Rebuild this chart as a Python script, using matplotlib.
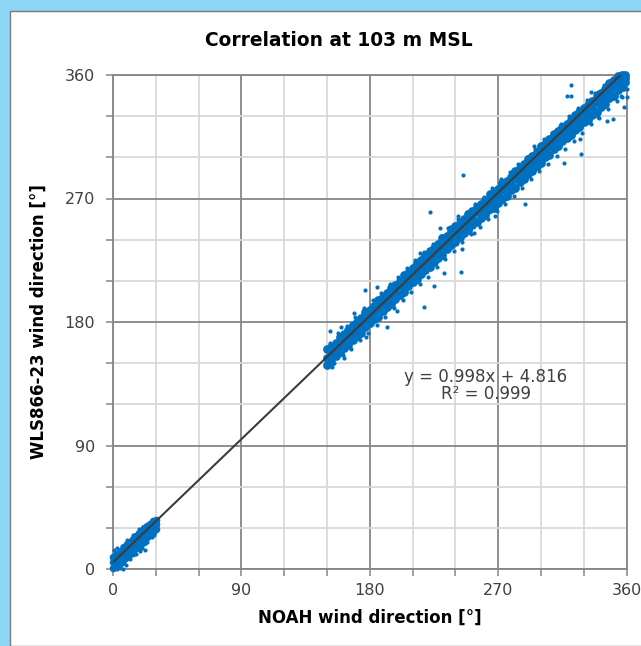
import matplotlib
matplotlib.use("Agg")
import matplotlib.pyplot as plt
from matplotlib.patches import Rectangle
from matplotlib.ticker import MultipleLocator


# dense band, 150..360 deg (NOAH x, three rows of WLS y read along the band)
band_x = [150, 153, 156, 159, 162, 165, 168, 171, 174, 177, 180, 183, 186, 189,
          192, 195, 198, 201, 204, 207, 210, 213, 216, 219, 222, 225, 228, 231,
          234, 237, 240, 243, 246, 249, 252, 255, 258, 261, 264, 267, 270, 273,
          276, 279, 282, 285, 288, 291, 294, 297, 300, 303, 306, 309, 312, 315,
          318, 321, 324, 327, 330, 333, 336, 339, 342, 345, 348, 351, 354, 357, 359]
band_lo = [149, 151, 155, 158, 161, 163, 167, 170, 172, 176, 179, 182, 184, 188,
           191, 193, 197, 200, 202, 206, 209, 211, 215, 218, 220, 224, 227, 229,
           233, 236, 238, 242, 245, 247, 251, 253, 256, 258, 262, 263, 267, 270,
           272, 276, 278, 282, 284, 288, 290, 294, 296, 300, 302, 306, 308, 312,
           314, 316, 320, 322, 326, 327, 331, 333, 337, 339, 343, 345, 349, 351, 355]
band_mid = [154, 157, 161, 163, 166, 170, 172, 175, 179, 181, 184, 188, 190, 193,
            197, 199, 202, 206, 208, 211, 215, 217, 220, 224, 226, 229, 233, 235,
            238, 242, 244, 247, 251, 253, 256, 260, 261, 264, 268, 269, 272, 276,
            278, 281, 285, 287, 290, 294, 296, 299, 303, 305, 308, 312, 314, 317,
            319, 322, 326, 328, 331, 333, 336, 340, 342, 345, 349, 351, 354, 357, 358]
band_hi = [160, 162, 165, 169, 171, 174, 178, 180, 183, 187, 189, 192, 196, 198,
           201, 205, 207, 210, 214, 216, 219, 223, 225, 228, 232, 234, 237, 241,
           243, 246, 250, 252, 255, 259, 261, 264, 266, 269, 273, 274, 277, 281,
           283, 286, 290, 292, 295, 299, 301, 304, 308, 310, 313, 317, 319, 322,
           324, 327, 331, 333, 336, 338, 341, 345, 347, 350, 354, 356, 359, 360, 360]

# dense cluster near north, 0..30 deg
low_x = [0, 2, 4, 6, 8, 10, 12, 14, 16, 18, 20, 22, 24, 26, 28, 30]
low_lo = [1, 2, 3, 5, 7, 9, 11, 12, 15, 17, 19, 20, 23, 25, 27, 29]
low_mid = [5, 6, 8, 10, 12, 13, 16, 17, 19, 21, 23, 25, 27, 29, 31, 33]
low_hi = [9, 10, 12, 14, 16, 18, 20, 22, 24, 26, 28, 30, 31, 33, 35, 36]

# scattered points round the band edges
fringe_x = [152, 155, 158, 161, 164, 167, 170, 173, 176, 179, 182, 185, 188, 191,
            194, 197, 200, 203, 206, 209, 212, 215, 218, 221, 224, 227, 230, 233,
            236, 239, 242, 245, 248, 251, 254, 257, 260, 263, 266, 269, 272, 275,
            278, 281, 284, 287, 290, 293, 296, 299, 302, 305, 308, 311, 314, 317,
            320, 323, 326, 329, 332, 335, 338, 341, 344, 347, 350, 353, 356, 358,
            0, 1, 3, 5, 7, 9, 1, 3, 6, 10, 14, 18, 12, 16, 20, 24, 27, 29, 31, 28, 4, 2]
fringe_y = [165, 150, 172, 156, 177, 160, 184, 167, 190, 172, 196, 178, 201, 184,
            208, 190, 213, 196, 219, 202, 225, 208, 231, 213, 237, 220, 243, 226,
            249, 232, 255, 238, 260, 244, 266, 249, 271, 255, 278, 261, 284, 266,
            289, 272, 295, 278, 300, 284, 306, 290, 313, 295, 318, 301, 324, 306,
            330, 312, 336, 318, 342, 324, 347, 329, 353, 335, 357, 341, 345, 350,
            0, 2, 0, 1, 0, 3, 14, 15, 17, 21, 25, 29, 7, 11, 15, 20, 23, 25, 31, 36, 6, 12]

# isolated outliers
outlier_x = [320.8, 318.5, 320.8, 334.9, 340.0, 349.5, 360.0, 356.5, 360.0, 357.9,
             346.0, 350.2, 340.0, 331.9, 327.7, 327.9, 315.9, 295.5, 299.0, 245.2,
             288.5, 268.1, 222.4, 253.3, 244.5, 244.0, 232.3, 218.2, 176.5, 215.4,
             234.6, 229.2, 242.1, 262.8, 246.3, 224.8, 192.4, 185.4, 169.0, 152.1,
             199.4, 177.4, 159.6, 161.9, 153.8, 22.5, 19.0]
outlier_y = [352.7, 344.9, 344.5, 347.4, 347.8, 344.2, 349.6, 343.7, 344.2, 336.5,
             326.5, 328.2, 329.2, 324.8, 313.1, 302.2, 295.7, 308.3, 307.3, 287.1,
             265.8, 257.3, 260.0, 245.1, 233.2, 216.2, 215.5, 191.1, 203.3, 230.5,
             248.7, 248.3, 257.5, 259.7, 243.4, 206.2, 176.1, 205.5, 186.9, 173.6,
             188.1, 169.3, 176.1, 154.0, 147.4, 13.6, 13.0]

SLOPE = 0.998
INTERCEPT = 4.816
R2 = 0.999

BLUE = "#0070C0"
FRAME = "#8ED6F6"


def main():
    plt.rcParams["font.family"] = "DejaVu Sans"
    fig = plt.figure(figsize=(6.41, 6.46), dpi=100, facecolor=FRAME)
    fig.patches.append(Rectangle((10 / 641, 0), 1, 1 - 11 / 646, transform=fig.transFigure,
                                 facecolor="white", edgecolor="#7a7a7a", lw=1.0, zorder=-5))

    ax = fig.add_axes([113 / 641, 77 / 646, 513.5 / 641, 494 / 646])
    ax.set_xlim(0, 360)
    ax.set_ylim(0, 360)

    # core rows drawn with bigger dots so the band closes up
    for ys in (band_lo, band_mid, band_hi):
        ax.scatter(band_x, ys, s=40, color=BLUE, linewidths=0, zorder=3, clip_on=False)
    for ys in (low_lo, low_mid, low_hi):
        ax.scatter(low_x, ys, s=30, color=BLUE, linewidths=0, zorder=3, clip_on=False)
    ax.scatter(fringe_x, fringe_y, s=9, color=BLUE, linewidths=0, zorder=3, clip_on=False)
    ax.scatter(outlier_x, outlier_y, s=9, color=BLUE, linewidths=0, zorder=3, clip_on=False)

    ax.plot([0, 360], [INTERCEPT, SLOPE * 360 + INTERCEPT], color="#3c3c3c", lw=1.5, zorder=4,
            clip_on=True)

    ax.text(261.5, 133.5, f"y = {SLOPE}x + {INTERCEPT}\nR² = {R2}", ha="center", va="center",
            fontsize=12, color="#404040", linespacing=0.95, zorder=5)

    ax.xaxis.set_major_locator(MultipleLocator(90))
    ax.yaxis.set_major_locator(MultipleLocator(90))
    ax.xaxis.set_minor_locator(MultipleLocator(30))
    ax.yaxis.set_minor_locator(MultipleLocator(30))
    ax.grid(True, which="minor", color="#d9d9d9", lw=1.3, zorder=0)
    ax.grid(True, which="major", color="#868686", lw=1.3, zorder=1)
    ax.set_axisbelow(True)
    ax.tick_params(which="both", direction="out", length=5, width=1.1, color="#868686",
                   labelsize=11.5, labelcolor="#404040")
    ax.tick_params(axis="x", which="major", pad=5)
    ax.tick_params(axis="y", which="major", pad=8)
    for sp in ax.spines.values():
        sp.set_color("#868686")
        sp.set_linewidth(1.3)

    ax.set_xlabel("NOAH wind direction [°]", fontsize=12, fontweight="bold", labelpad=8)
    ax.set_ylabel("WLS866-23 wind direction [°]", fontsize=12, fontweight="bold", labelpad=12)
    fig.text(339 / 641, 1 - 40 / 646, "Correlation at 103 m MSL", ha="center", va="center",
             fontsize=13.4, fontweight="bold")

    fig.savefig("out.png", dpi=100, facecolor=FRAME)
    plt.close(fig)


if __name__ == "__main__":
    main()
